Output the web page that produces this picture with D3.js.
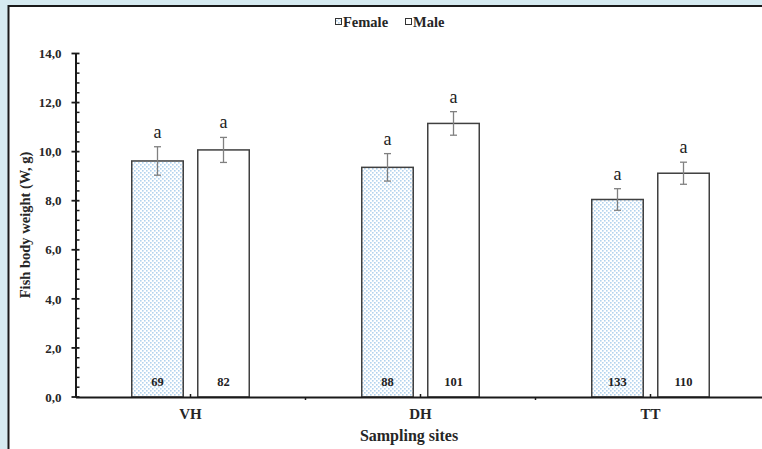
<!DOCTYPE html>
<html>
<head>
<meta charset="utf-8">
<script src="https://cdn.jsdelivr.net/npm/d3@7"></script>
<style>
  html, body { margin: 0; padding: 0; background: #d6ebf1; }
  svg { display: block; }
</style>
</head>
<body>
<div id="chart"></div>
<script>
"use strict";

// data
var sites = ["VH", "DH", "TT"];
var sexes = ["Female", "Male"];
var femaleMean = [9.62, 9.36, 8.05];
var maleMean = [10.07, 11.15, 9.12];
var femaleSE = [0.58, 0.56, 0.44];
var maleSE = [0.51, 0.48, 0.45];
var femaleN = [69, 88, 133];
var maleN = [82, 101, 110];
var femaleLetter = ["a", "a", "a"];
var maleLetter = ["a", "a", "a"];
var yTicks = [0, 2, 4, 6, 8, 10, 12, 14];

var width = 762, height = 449;
var serif = "Liberation Serif, Times New Roman, serif";

var rows = [];
sites.forEach(function(s, i) {
  rows.push({site: s, sex: "Female", mean: femaleMean[i], se: femaleSE[i], n: femaleN[i], letter: femaleLetter[i]});
  rows.push({site: s, sex: "Male", mean: maleMean[i], se: maleSE[i], n: maleN[i], letter: maleLetter[i]});
});

var svg = d3.select("#chart").append("svg")
  .attr("width", width)
  .attr("height", height);

// pattern for female bars
var defs = svg.append("defs");
var pat = defs.append("pattern")
  .attr("id", "dots")
  .attr("patternUnits", "userSpaceOnUse")
  .attr("width", 4)
  .attr("height", 4);
pat.append("rect").attr("width", 4).attr("height", 4).attr("fill", "#ffffff");
pat.append("rect").attr("x", 0).attr("y", 0).attr("width", 1.6).attr("height", 1.6).attr("fill", "#b3d3ee");
pat.append("rect").attr("x", 2).attr("y", 2).attr("width", 1.6).attr("height", 1.6).attr("fill", "#b3d3ee");

// white panel
svg.append("rect")
  .attr("x", 8.5)
  .attr("y", 6)
  .attr("width", width + 20)
  .attr("height", height + 20)
  .attr("fill", "#ffffff")
  .attr("stroke", "#1a1a1a")
  .attr("stroke-width", 2);

var x0 = d3.scaleBand().domain(sites).range([75.5, 765.5]);
var groupW = 117.5;
var x1 = d3.scaleBand().domain(sexes).range([0, groupW]).paddingInner(0.22);
var y = d3.scaleLinear().domain([0, 14]).range([397, 53.5]);

function barX(d) {
  return x0(d.site) + (x0.bandwidth() - groupW) / 2 + x1(d.sex);
}

var g = svg.append("g");

// bars
g.selectAll("rect.bar")
  .data(rows)
  .enter().append("rect")
  .attr("class", "bar")
  .attr("x", barX)
  .attr("y", function(d) { return y(d.mean); })
  .attr("width", x1.bandwidth())
  .attr("height", function(d) { return y(0) - y(d.mean); })
  .attr("fill", function(d) { return d.sex == "Female" ? "url(#dots)" : "#ffffff"; })
  .attr("stroke", "#404040")
  .attr("stroke-width", 1.5);

// error bars
var eb = g.selectAll("g.err")
  .data(rows)
  .enter().append("g")
  .attr("class", "err")
  .attr("stroke", "#808080")
  .attr("stroke-width", 1.3);
eb.append("line")
  .attr("x1", function(d) { return barX(d) + x1.bandwidth() / 2; })
  .attr("x2", function(d) { return barX(d) + x1.bandwidth() / 2; })
  .attr("y1", function(d) { return y(d.mean + d.se); })
  .attr("y2", function(d) { return y(d.mean - d.se); });
[1, -1].forEach(function(k) {
  eb.append("line")
    .attr("x1", function(d) { return barX(d) + x1.bandwidth() / 2 - 3.5; })
    .attr("x2", function(d) { return barX(d) + x1.bandwidth() / 2 + 3.5; })
    .attr("y1", function(d) { return y(d.mean + k * d.se); })
    .attr("y2", function(d) { return y(d.mean + k * d.se); });
});

// letters
g.selectAll("text.letter")
  .data(rows)
  .enter().append("text")
  .attr("class", "letter")
  .attr("x", function(d) { return barX(d) + x1.bandwidth() / 2; })
  .attr("y", function(d) { return y(d.mean + d.se) - 9; })
  .attr("text-anchor", "middle")
  .attr("font-family", serif)
  .attr("font-size", "18px")
  .attr("fill", "#222")
  .text(function(d) { return d.letter; });

// counts
g.selectAll("text.n")
  .data(rows)
  .enter().append("text")
  .attr("class", "n")
  .attr("x", function(d) { return barX(d) + x1.bandwidth() / 2; })
  .attr("y", y(0) - 11.5)
  .attr("text-anchor", "middle")
  .attr("font-family", serif)
  .attr("font-weight", "bold")
  .attr("font-size", "12.5px")
  .attr("fill", "#222")
  .text(function(d) { return d.n; });

// y axis
var yAxis = g.append("g")
  .attr("transform", "translate(75.5,0)")
  .call(d3.axisLeft(y).tickValues(yTicks).tickSize(0).tickPadding(14)
    .tickFormat(function(d) { return d3.format(".1f")(d).replace(".", ","); }));
yAxis.select(".domain").attr("stroke", "#1a1a1a").attr("stroke-width", 2);
yAxis.selectAll("text")
  .attr("font-family", serif)
  .attr("font-weight", "bold")
  .attr("font-size", "13px")
  .attr("fill", "#262626");
// major ticks cross the axis
g.selectAll("line.ymaj")
  .data(yTicks)
  .enter().append("line")
  .attr("x1", 71.5).attr("x2", 79.5)
  .attr("y1", function(d) { return y(d); })
  .attr("y2", function(d) { return y(d); })
  .attr("stroke", "#1a1a1a").attr("stroke-width", 1.8);
// minor ticks inside
g.selectAll("line.ymin")
  .data(d3.range(0, 14.01, 0.4).filter(function(v) { return Math.abs(v / 2 - Math.round(v / 2)) > 0.01; }))
  .enter().append("line")
  .attr("x1", 75.5).attr("x2", 79.5)
  .attr("y1", function(d) { return y(d); })
  .attr("y2", function(d) { return y(d); })
  .attr("stroke", "#1a1a1a").attr("stroke-width", 1.5);

// x axis
var xAxis = g.append("g")
  .attr("transform", "translate(0," + y(0) + ")")
  .call(d3.axisBottom(x0).tickSize(0).tickPadding(11));
xAxis.select(".domain").attr("stroke", "#1a1a1a").attr("stroke-width", 2);
xAxis.selectAll("text")
  .attr("font-family", serif)
  .attr("font-weight", "bold")
  .attr("font-size", "15px")
  .attr("fill", "#262626");
g.selectAll("line.xtick")
  .data(sites.slice(0, 2))
  .enter().append("line")
  .attr("x1", function(d) { return x0(d) + x0.bandwidth(); })
  .attr("x2", function(d) { return x0(d) + x0.bandwidth(); })
  .attr("y1", y(0)).attr("y2", y(0) + 3)
  .attr("stroke", "#1a1a1a").attr("stroke-width", 1.5);
g.selectAll("line.xtick2")
  .data(sites)
  .enter().append("line")
  .attr("x1", function(d) { return x0(d) + x0.bandwidth() / 2; })
  .attr("x2", function(d) { return x0(d) + x0.bandwidth() / 2; })
  .attr("y1", y(0) - 3).attr("y2", y(0))
  .attr("stroke", "#1a1a1a").attr("stroke-width", 1.5);

// axis titles
svg.append("text")
  .attr("x", 409)
  .attr("y", 441)
  .attr("text-anchor", "middle")
  .attr("font-family", serif)
  .attr("font-weight", "bold")
  .attr("font-size", "16px")
  .attr("fill", "#262626")
  .text("Sampling sites");

svg.append("text")
  .attr("transform", "translate(30,225) rotate(-90)")
  .attr("text-anchor", "middle")
  .attr("font-family", serif)
  .attr("font-weight", "bold")
  .attr("font-size", "14.5px")
  .attr("fill", "#262626")
  .text("Fish body weight (W, g)");

// legend
var legend = svg.append("g");
var legX = [335, 405];
sexes.forEach(function(s, i) {
  legend.append("rect")
    .attr("x", legX[i] + 0.5)
    .attr("y", 18.5)
    .attr("width", 6)
    .attr("height", 6)
    .attr("fill", i == 0 ? "url(#dots)" : "#fff")
    .attr("stroke", "#333")
    .attr("stroke-width", 1);
  legend.append("text")
    .attr("x", legX[i] + 8)
    .attr("y", 26.5)
    .attr("font-family", serif)
    .attr("font-weight", "bold")
    .attr("font-size", "14.5px")
    .attr("fill", "#262626")
    .text(s);
});
</script>
</body>
</html>
